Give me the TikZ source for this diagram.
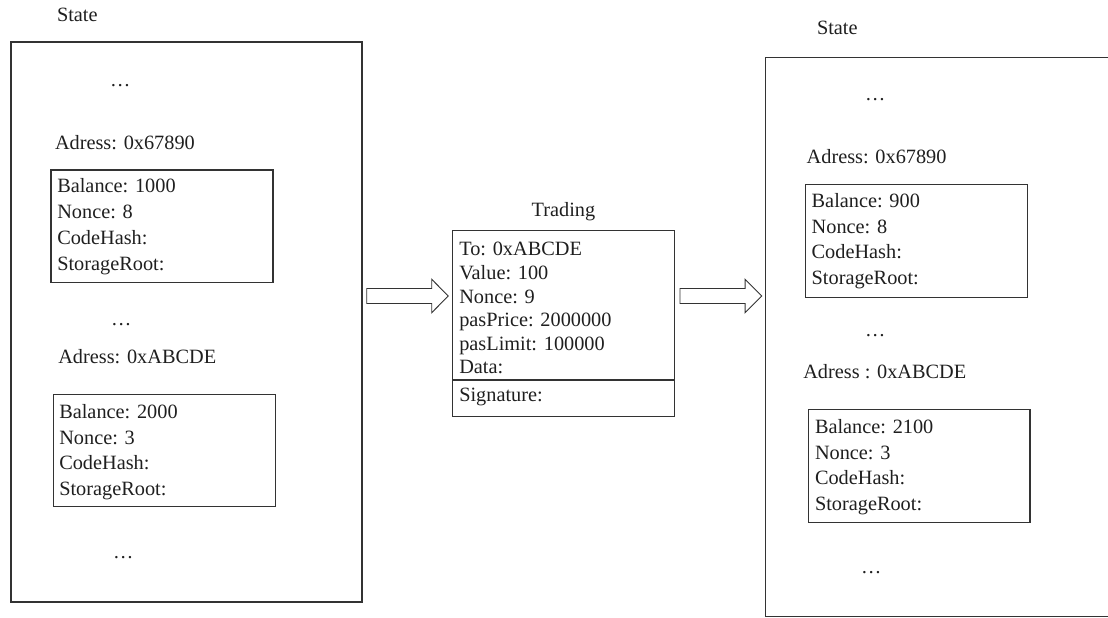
\documentclass[tikz,border=0pt]{standalone}
\usepackage{fontspec}
\setmainfont{Liberation Serif}
\usetikzlibrary{calc}
\begin{document}
\begin{tikzpicture}[x=1bp,y=-1bp,
  every node/.style={inner sep=0pt, outer sep=0pt},
  txt/.style={anchor=base west, text=black!88, font=\fontsize{20.3bp}{24bp}\selectfont},
  frame/.style={draw=black!80, line width=1.2bp, rectangle, anchor=north west},
  barrow/.style={draw=black!80, line width=0.9bp, line join=miter, fill=white}]
\useasboundingbox (0,0) rectangle (1108,618);
\clip (0,0) rectangle (1108,618);

% ---- state before the transaction ----
\node[frame, minimum width=351bp, minimum height=560bp] (S1) at (11,42) {};
\node[txt] (S1t) at (57,21.7) {State};
\node[txt] (S1d1) at (110,87) {…};
\node[txt] (S1a1) at (55,149.3) {Adress: 0x67890};
\node[frame, minimum width=222bp, minimum height=112.3bp] (L1) at (51,170) {};
\foreach \s [count=\i from 0] in {Balance: 1000,Nonce: 8,CodeHash:,StorageRoot:}
  \node[txt] (L1-\i) at ($(L1.north west)+(6.3,22.7+25.8*\i)$) {\s};
\node[txt] (S1d2) at (111,326) {…};
\node[txt] (S1a2) at (58.3,363.3) {Adress: 0xABCDE};
\node[frame, minimum width=222bp, minimum height=112.4bp] (L2) at (53.3,394.3) {};
\foreach \s [count=\i from 0] in {Balance: 2000,Nonce: 3,CodeHash:,StorageRoot:}
  \node[txt] (L2-\i) at ($(L2.north west)+(6,24+25.8*\i)$) {\s};
\node[txt] (S1d3) at (113,558) {…};

% ---- the transaction ----
\node[frame, minimum width=221.6bp, minimum height=149.3bp] (tx) at (452.7,230.7) {};
\node[frame, minimum width=221.6bp, minimum height=36.7bp] (sig) at (tx.south west) {};
\node[txt, anchor=base] (txt) at ($(tx.north)+(0,-14)$) {Trading};
\foreach \s [count=\i from 0] in {To: 0xABCDE,Value: 100,Nonce: 9,pasPrice: 2000000,pasLimit: 100000,Data:}
  \node[txt] (tx-\i) at ($(tx.north west)+(6.6,25.2+23.6*\i)$) {\s};
\node[txt] (sigt) at ($(sig.north west)+(6.6,21.5)$) {Signature:};

% ---- state after the transaction ----
\node[frame, minimum width=350bp, minimum height=559bp] (S2) at (765.3,57.7) {};
\node[txt] (S2t) at (817,35) {State};
\node[txt] (S2d1) at (865,101) {…};
\node[txt] (S2a1) at (806.7,164) {Adress: 0x67890};
\node[frame, minimum width=222bp, minimum height=113bp] (R1) at (805.3,184.3) {};
\foreach \s [count=\i from 0] in {Balance: 900,Nonce: 8,CodeHash:,StorageRoot:}
  \node[txt] (R1-\i) at ($(R1.north west)+(6.4,23+25.8*\i)$) {\s};
\node[txt] (S2d2) at (865,336) {…};
\node[txt] (S2a2) at (803.3,378.3) {Adress : 0xABCDE};
\node[frame, minimum width=221.7bp, minimum height=113bp] (R2) at (808.3,409.3) {};
\foreach \s [count=\i from 0] in {Balance: 2100,Nonce: 3,CodeHash:,StorageRoot:}
  \node[txt] (R2-\i) at ($(R2.north west)+(6.7,24+25.8*\i)$) {\s};
\node[txt] (S2d3) at (861,573) {…};

% ---- block arrows between the stages ----
\coordinate (a1s) at ($(S1.east |- 0,296)+(4.7,0)$);
\coordinate (a1e) at ($(tx.west |- 0,296)+(-4.4,0)$);
\coordinate (a2s) at ($(tx.east |- 0,296)+(5.7,0)$);
\coordinate (a2e) at ($(S2.west |- 0,296)+(-3.6,0)$);
\foreach \a/\b in {a1s/a1e,a2s/a2e}
  \draw[barrow] ($(\a)+(0,-7.5)$) -- ($(\b)+(-16.6,-7.5)$) -- ($(\b)+(-16.6,-16.7)$)
    -- (\b) -- ($(\b)+(-16.6,16.7)$) -- ($(\b)+(-16.6,7.5)$) -- ($(\a)+(0,7.5)$) -- cycle;
\end{tikzpicture}
\end{document}
